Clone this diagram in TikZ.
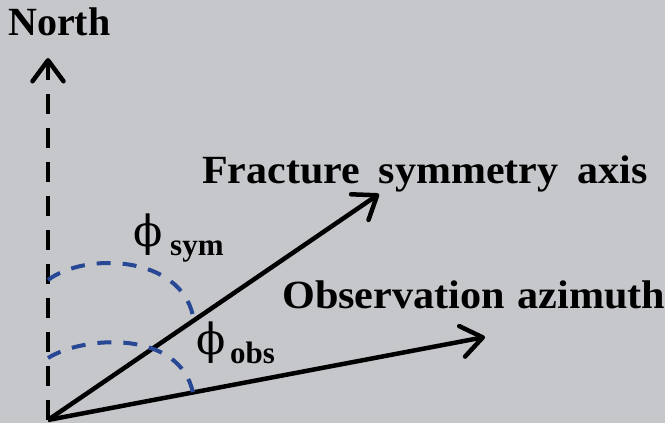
\documentclass[tikz,border=0pt]{standalone}
\usepackage{fontspec}
\setmainfont{Liberation Serif}
\newfontfamily\phifont{DejaVu Serif}
\usetikzlibrary{arrows.meta}
\definecolor{bggray}{RGB}{197,199,202}
\definecolor{arcblue}{RGB}{40,72,150}
\tikzset{
  vec/.style={line width=4.5pt,-{Straight Barb[length=21pt,width=31pt,line width=4.5pt,round]}},
  arcline/.style={arcblue,line width=4pt,dash pattern=on 14pt off 12pt},
  lbl/.style={inner sep=0pt,anchor=base west,font=\fontsize{40}{44}\selectfont\bfseries},
  phil/.style={inner sep=0pt,anchor=base west,font=\fontsize{43}{46}\phifont},
  subl/.style={inner sep=0pt,anchor=base west,font=\fontsize{31}{34}\selectfont\bfseries}
}
\begin{document}
\begin{tikzpicture}[x=1pt,y=-1pt]
\fill[bggray] (0,0) rectangle (665,423);
\useasboundingbox (0,0) rectangle (665,423);
\coordinate (O) at (48,420);
\coordinate (N) at (48,58);
\coordinate (F) at (379,194);
\coordinate (B) at (485,337);
\draw[vec,dash pattern=on 20pt off 14pt] (O) -- (N);
\draw[vec] (O) -- (F);
\draw[vec] (O) -- (B);
\draw[arcline] (48,280) .. controls (85,252) and (180,255) .. (193,316);
\draw[arcline] (48,358) .. controls (85,335) and (180,330) .. (193,393);
\node[lbl] (north) at (8,35) {North};
\node[lbl] (frac) at (202,183) {\scalebox{1.05}[1]{Fracture\hspace{0.45em}symmetry\hspace{0.45em}axis}};
\node[lbl] (obs) at (282,308) {\scalebox{1.055}[1]{Observation\hspace{0.3em}azimuth}};
\node[phil] (phisym) at (133,246) {ϕ};
\node[subl] (subsym) at (170,255) {sym};
\node[phil] (phiobs) at (196,354) {ϕ};
\node[subl] (subobs) at (230,363) {obs};
\end{tikzpicture}
\end{document}
